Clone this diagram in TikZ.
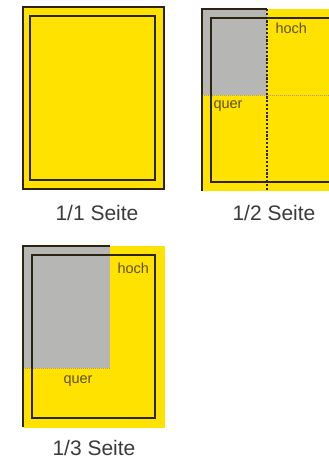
\documentclass[tikz,border=0pt]{standalone}
\usepackage{fontspec}
\setmainfont{Liberation Sans}
\usetikzlibrary{positioning}
\definecolor{adYellow}{HTML}{FFE200}
\definecolor{adGrey}{HTML}{B6B6B4}
\definecolor{adLine}{HTML}{2B2410}
\definecolor{adText}{HTML}{3A3A3A}
\definecolor{adTag}{HTML}{5C5210}
\tikzset{
  % one pixel of the layout sheet is one point here
  every picture/.append style = {line width=1pt},
  sheet/.style     = {fill=adYellow},
  block/.style     = {fill=adGrey},
  edge/.style      = {draw=adLine, line width=1.1pt},
  trim/.style      = {draw=adLine, line width=1.4pt},
  cut/.style       = {draw=adLine, line width=1.2pt, dash pattern=on 2.2pt off 1.6pt},
  fold/.style      = {draw=adLine!45, line width=0.5pt, dash pattern=on 1pt off 1pt},
  caption/.style   = {font=\fontsize{21}{24}\selectfont, adText, inner sep=0pt, anchor=base},
  tag/.style       = {font=\fontsize{14.5}{16}\selectfont, adTag, inner sep=0pt},
}

\begin{document}
\begin{tikzpicture}[x=1pt,y=-1pt]
  \useasboundingbox (0,0) rectangle (329,461);
  % --- 1/1 page -----------------------------------------------------------
  \draw[sheet, edge] (23,7) rectangle (164,189);
  \draw[trim] (30,16) rectangle (155,180);
  \node[caption] (full) at (97,220) {1/1 Seite};
  % --- 1/2 page -----------------------------------------------------------
  \fill[sheet] (202,9) rectangle (329,191);
  \fill[block] (202,9) rectangle (267,95);
  \draw[fold] (202,95) -- (329,95);
  \draw[edge] (202,191) -- (202,9) -- (267,9);
  \draw[trim] (329,18) -- (211,18) -- (211,182) -- (329,182);
  \draw[cut] (267,9) -- (267,191);
  \node[tag, anchor=base west] (half hoch) at (275,33) {hoch};
  \node[tag, anchor=base west] (half quer) at (213,108) {quer};
  \node[caption] (half) at (274,220) {1/2 Seite};
  % --- 1/3 page -----------------------------------------------------------
  \fill[sheet] (23,246) rectangle (165,428);
  \fill[block] (23,246) rectangle (110,368);
  \draw[fold] (23,368) -- (110,368);
  \draw[edge] (23,427) -- (23,246) -- (110,246);
  \draw[trim] (32,255) rectangle (155,418);
  \node[tag, anchor=base west] (third hoch) at (117,273) {hoch};
  \node[tag, anchor=base west] (third quer) at (63,383) {quer};
  \node[caption] (third) at (94,455) {1/3 Seite};
\end{tikzpicture}
\end{document}
